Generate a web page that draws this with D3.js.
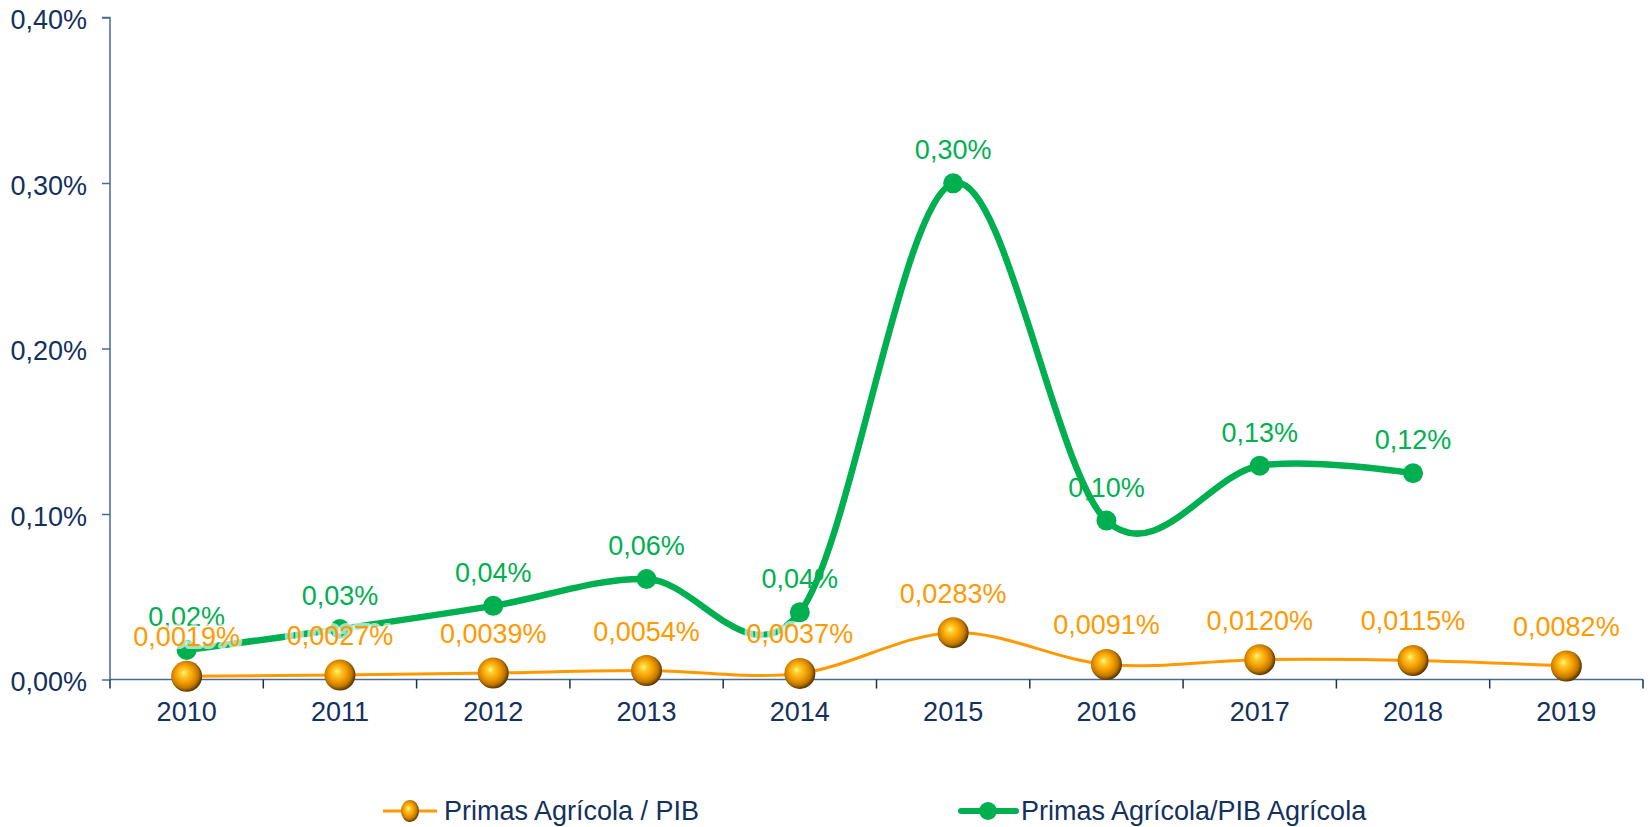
<!DOCTYPE html>
<html><head><meta charset="utf-8">
<script src="https://cdn.jsdelivr.net/npm/d3@7"></script>
<style>
html,body{margin:0;padding:0;background:#fff;}
svg{display:block;font-family:"Liberation Sans",Arial,sans-serif;}
</style></head>
<body>
<svg id="chart" width="1651" height="827"></svg>
<script>
const years = ["2010","2011","2012","2013","2014","2015","2016","2017","2018","2019"];
const pibValues = [0.0019, 0.0027, 0.0039, 0.0054, 0.0037, 0.0283, 0.0091, 0.0120, 0.0115, 0.0082];
const pibAgriYears = ["2010","2011","2012","2013","2014","2015","2016","2017","2018"];
const pibAgriValues = [0.0178, 0.0305, 0.0445, 0.0607, 0.0406, 0.2998, 0.0960, 0.1292, 0.1246];
const yTicks = [0, 0.1, 0.2, 0.3, 0.4];
const seriesNames = ["Primas Agrícola / PIB", "Primas Agrícola/PIB Agrícola"];

(function () {
const svg = d3.select("#chart");
const mLeft = 110, mRight = 1643, mTop = 17.5, mBottom = 679.5;
const navy = "#13315C", axisCol = "#4A6A96";
const green = "#00B050", orange = "#FF9900";
const fs = 27;

const x = d3.scaleBand().domain(years).range([mLeft, mRight]).padding(0);
const cx = d => x(d) + x.bandwidth() / 2;
const y = d3.scaleLinear().domain([0, 0.4]).range([mBottom, mTop]);
const fmt = (v, n) => v.toFixed(n).replace(".", ",") + "%";

const defs = svg.append("defs");
const g1 = defs.append("radialGradient").attr("id", "sphere")
  .attr("cx", "45%").attr("cy", "45%").attr("r", "55%").attr("fx", "40%").attr("fy", "38%");
[["0%", "#FFFF90"], ["18%", "#FFD030"], ["55%", "#F29A00"], ["80%", "#C07800"], ["100%", "#5A3600"]]
  .forEach(s => g1.append("stop").attr("offset", s[0]).attr("stop-color", s[1]));

// Y axis
const yAxis = d3.axisLeft(y).tickValues(yTicks).tickSize(8).tickPadding(15).tickFormat(d => fmt(d, 2));
const ya = svg.append("g").attr("transform", `translate(${mLeft},0)`).call(yAxis);
ya.select(".domain").attr("stroke", axisCol).attr("stroke-width", 1.5).attr("d", `M-8,${mTop}H0V${mBottom}`);
ya.selectAll(".tick line").attr("stroke", axisCol).attr("stroke-width", 1.5);
ya.selectAll(".tick text").attr("fill", navy).attr("font-size", fs)
  .attr("font-family", "'Liberation Sans',Arial,sans-serif").attr("dy", "0.42em");

// X axis
const xa = svg.append("g").attr("transform", `translate(0,${mBottom})`)
  .call(d3.axisBottom(x).tickSize(0).tickPadding(36));
xa.select(".domain").attr("stroke", axisCol).attr("stroke-width", 1.5).attr("d", `M${mLeft},0H${mRight}`);
xa.selectAll(".tick text").attr("fill", navy).attr("font-size", fs)
  .attr("font-family", "'Liberation Sans',Arial,sans-serif").attr("dy", "0.2em");
const bounds = years.map(d => x(d)).concat([mRight]);
xa.selectAll(".btick").data(bounds).enter().append("line")
  .attr("x1", d => d).attr("x2", d => d).attr("y1", 0).attr("y2", 9)
  .attr("stroke", navy).attr("stroke-width", 1.5);

const curve = d3.curveCatmullRom.alpha(0);
const gData = pibAgriYears.map((d, i) => ({ k: d, v: pibAgriValues[i] }));
const oData = years.map((d, i) => ({ k: d, v: pibValues[i] }));

svg.append("g").selectAll("text").data(gData).enter().append("text")
  .attr("x", d => cx(d.k)).attr("y", d => y(d.v) - 24)
  .attr("text-anchor", "middle").attr("font-size", fs).attr("fill", green)
  .text(d => fmt(d.v, 2));

svg.append("path").datum(gData)
  .attr("d", d3.line().x(d => cx(d.k)).y(d => y(d.v)).curve(curve))
  .attr("fill", "none").attr("stroke", green).attr("stroke-width", 6.5).attr("stroke-linejoin", "round");
svg.append("g").selectAll("circle").data(gData).enter().append("circle")
  .attr("cx", d => cx(d.k)).attr("cy", d => y(d.v)).attr("r", 10).attr("fill", green);

svg.append("path").datum(oData)
  .attr("d", d3.line().x(d => cx(d.k)).y(d => y(d.v)).curve(curve))
  .attr("fill", "none").attr("stroke", orange).attr("stroke-width", 3);
svg.append("g").selectAll("circle").data(oData).enter().append("circle")
  .attr("cx", d => cx(d.k)).attr("cy", d => y(d.v)).attr("r", 15.5).attr("fill", "url(#sphere)");

svg.append("g").selectAll("text").data(oData).enter().append("text")
  .attr("x", d => cx(d.k)).attr("y", d => y(d.v) - 30)
  .attr("text-anchor", "middle").attr("font-size", fs).attr("fill", orange)
  .attr("stroke", "#fff").attr("stroke-opacity", 0.65).attr("stroke-width", 6)
  .attr("stroke-linejoin", "round").attr("paint-order", "stroke")
  .text(d => fmt(d.v, 4));

const leg = svg.append("g");
const ly = 811;
leg.append("line").attr("x1", 383).attr("x2", 437).attr("y1", ly).attr("y2", ly)
  .attr("stroke", orange).attr("stroke-width", 3);
leg.append("ellipse").attr("cx", 410).attr("cy", ly).attr("rx", 9).attr("ry", 11).attr("fill", "url(#sphere)");
leg.append("text").attr("x", 444).attr("y", ly + 9).attr("font-size", fs).attr("fill", navy).text(seriesNames[0]);
leg.append("line").attr("x1", 961).attr("x2", 1016).attr("y1", ly).attr("y2", ly)
  .attr("stroke", green).attr("stroke-width", 6).attr("stroke-linecap", "round");
leg.append("circle").attr("cx", 988).attr("cy", ly).attr("r", 9).attr("fill", green);
leg.append("text").attr("x", 1021).attr("y", ly + 9).attr("font-size", fs).attr("fill", navy).text(seriesNames[1]);
})();
</script>
</body></html>
